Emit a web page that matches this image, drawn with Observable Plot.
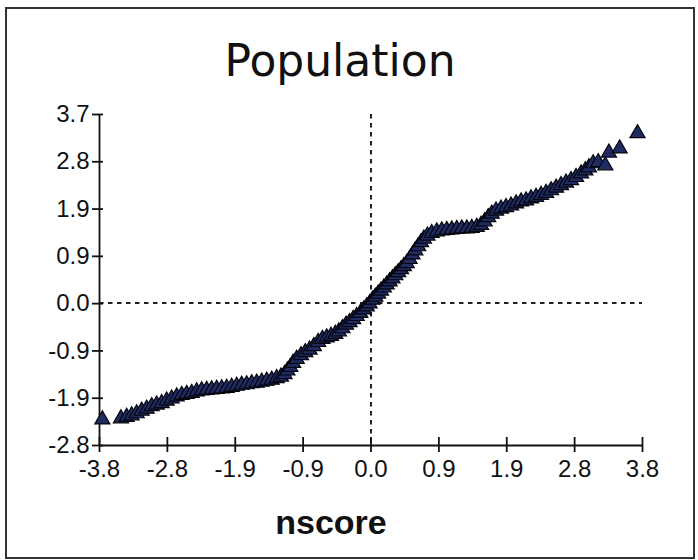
<!DOCTYPE html>
<html><head><meta charset="utf-8">
<script src="https://cdn.jsdelivr.net/npm/d3@7"></script>
<script src="https://cdn.jsdelivr.net/npm/@observablehq/plot@0.6"></script>
<style>
html,body{margin:0;padding:0;background:#fff;}
#wrap{position:relative;width:698px;height:560px;overflow:hidden;background:#fff;}
#wrap svg{position:absolute;left:0;top:0;}
#border{position:absolute;left:5px;top:7px;width:686px;height:548px;border:2px solid #333;pointer-events:none;}
</style></head><body>
<div id="wrap"></div>
<script>
const titleText = ["Population"];
const xLabelText = ["nscore"];
const xTickLabels = ["-3.8","-2.8","-1.9","-0.9","0.0","0.9","1.9","2.8","3.8"];
const yTickLabels = ["-2.8","-1.9","-0.9","0.0","0.9","1.9","2.8","3.7"];
const nscore = [-3.76,-3.50,-3.42,-3.35,-3.28,-3.21,-3.14,-3.07,-3.00,-2.93,-2.86,-2.79,-2.72,-2.65,-2.58,-2.51,-2.44,-2.37,-2.30,-2.23,-2.16,-2.09,-2.02,-1.95,-1.88,-1.81,-1.74,-1.67,-1.60,-1.53,-1.46,-1.39,-1.32,-1.26,-1.21,-1.17,-1.13,-1.09,-1.04,-0.98,-0.92,-0.86,-0.80,-0.74,-0.68,-0.62,-0.56,-0.50,-0.45,-0.40,-0.35,-0.30,-0.25,-0.20,-0.15,-0.10,-0.06,-0.02,0.02,0.06,0.10,0.14,0.18,0.22,0.26,0.30,0.34,0.38,0.42,0.46,0.50,0.54,0.58,0.62,0.66,0.70,0.74,0.79,0.85,0.92,0.99,1.06,1.13,1.20,1.27,1.34,1.41,1.48,1.54,1.59,1.64,1.69,1.75,1.82,1.89,1.96,2.03,2.10,2.17,2.24,2.31,2.38,2.45,2.52,2.59,2.66,2.73,2.80,2.87,2.94,3.00,3.05,3.11,3.18,3.28,3.33,3.48,3.73];
const population = [-2.29,-2.27,-2.24,-2.21,-2.17,-2.12,-2.08,-2.03,-2.00,-1.97,-1.92,-1.88,-1.84,-1.81,-1.79,-1.77,-1.74,-1.72,-1.71,-1.70,-1.69,-1.68,-1.67,-1.65,-1.63,-1.61,-1.60,-1.58,-1.57,-1.55,-1.53,-1.51,-1.48,-1.45,-1.40,-1.33,-1.26,-1.18,-1.10,-1.03,-0.97,-0.92,-0.85,-0.77,-0.71,-0.68,-0.65,-0.61,-0.56,-0.50,-0.43,-0.38,-0.32,-0.26,-0.20,-0.13,-0.07,-0.01,0.06,0.12,0.18,0.24,0.30,0.36,0.42,0.48,0.54,0.60,0.66,0.72,0.78,0.86,0.95,1.03,1.11,1.19,1.26,1.32,1.37,1.40,1.42,1.43,1.44,1.45,1.46,1.46,1.47,1.49,1.53,1.60,1.68,1.75,1.81,1.85,1.88,1.91,1.95,1.99,2.01,2.05,2.08,2.12,2.16,2.21,2.26,2.31,2.36,2.41,2.47,2.54,2.60,2.66,2.74,2.76,2.70,2.95,3.03,3.33];

const xTicks = xTickLabels.map((_, i) => -3.8 + i * 0.95);
const yTicks = yTickLabels.map((_, i) => -2.8 + i * 6.5 / 7);
const pts = nscore.map((x, i) => ({x, y: population[i]}));
const font = "'Liberation Sans', Arial, sans-serif";
const ink = "#111";

const chart = Plot.plot({
  width: 698, height: 560,
  marginLeft: 99, marginRight: 56, marginTop: 114, marginBottom: 115,
  style: {fontFamily: font, background: "#fff", color: ink, overflow: "visible"},
  x: {domain: [-3.8, 3.8]},
  y: {domain: [-2.8, 3.7]},
  marks: [
    Plot.ruleX([0], {stroke: "#222", strokeWidth: 2, strokeDasharray: "4.5,4.5"}),
    Plot.ruleY([0], {stroke: "#222", strokeWidth: 2, strokeDasharray: "4.5,4.5"}),
    Plot.ruleX([-3.8], {stroke: ink, strokeWidth: 1.8}),
    Plot.ruleY([-2.8], {stroke: ink, strokeWidth: 1.8}),
    Plot.ruleX(xTicks, {x: d => d, y1: -2.8, y2: -2.8, insetTop: -8, insetBottom: -7, stroke: ink, strokeWidth: 1.8}),
    Plot.ruleY(yTicks, {y: d => d, x1: -3.8, x2: -3.8, insetLeft: -7, insetRight: -4, stroke: ink, strokeWidth: 1.8}),
    Plot.axisX({ticks: xTicks, tickFormat: d => xTickLabels[xTicks.indexOf(d)], tickSize: 0, tickPadding: 14, fontSize: 24, label: null, color: ink}),
    Plot.axisY({ticks: yTicks, tickFormat: d => yTickLabels[yTicks.indexOf(d)], tickSize: 0, tickPadding: 10, fontSize: 24, label: null, color: ink}),
    Plot.dot(pts, {x: "x", y: "y", symbol: "triangle", r: 5.6, fill: "#1f2b62", stroke: "#05060c", strokeWidth: 1.2}),
    Plot.text(titleText, {text: d => d, frameAnchor: "top", dx: -31, dy: -39, lineAnchor: "bottom", fontSize: 44, fill: ink, fontFamily: "'DejaVu Sans', Verdana, sans-serif"}),
    Plot.text(xLabelText, {text: d => d, frameAnchor: "bottom", dx: -40, dy: 88, lineAnchor: "bottom", fontSize: 34, fontWeight: "bold", fill: ink})
  ]
});
const wrap = document.getElementById("wrap");
wrap.appendChild(chart);
const b = document.createElement("div");
b.id = "border";
wrap.appendChild(b);
</script>
</body></html>
